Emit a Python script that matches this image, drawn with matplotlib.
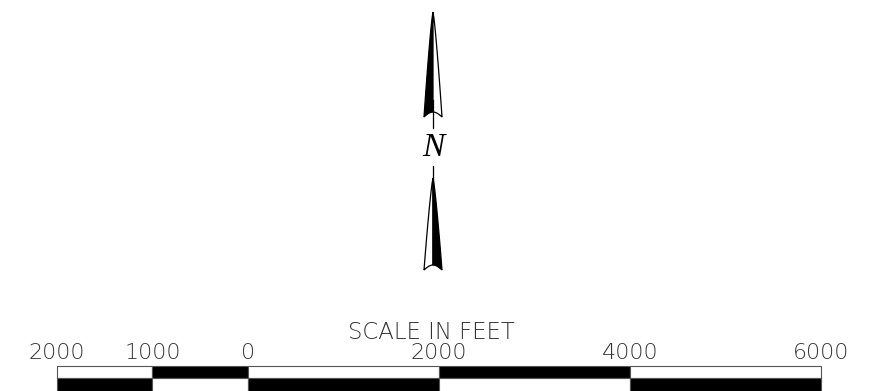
import matplotlib.pyplot as plt
from matplotlib.patches import Polygon, Rectangle
import numpy as np

# scale bar data (feet)
tick_ft = [-2000, -1000, 0, 2000, 4000, 6000]
tick_labels = ["2000", "1000", "0", "2000", "4000", "6000"]
top_row_black = [False, True, False, True, False]
scale_title = "SCALE IN FEET"
north_label = "N"

fig = plt.figure(figsize=(8.83, 3.91), dpi=100)

# --- north arrow, drawn in pixel space ---
ax = fig.add_axes([0, 0, 1, 1])
ax.set_xlim(0, 883)
ax.set_ylim(391, 0)
ax.axis("off")


def arrow(ax, cx, tip, base, half, black_left):
    t = np.linspace(0, 1, 12)
    notch = 5
    # sides bulge a little, base curves up to the centre
    s = np.linspace(0, 1, 20)
    side_y = tip + (base - tip) * s
    side_w = half * (s ** 0.8)
    lx = cx - half + half * t
    ly = base - notch * np.sin(t * np.pi / 2)
    left = list(zip(cx - side_w, side_y)) + list(zip(lx, ly))
    right = list(zip(cx + side_w, side_y)) + list(zip(cx + half - half * t, ly))
    ax.add_patch(Polygon(left, closed=True, facecolor="black" if black_left else "white",
                         edgecolor="black", linewidth=0.9, joinstyle="miter"))
    ax.add_patch(Polygon(right, closed=True, facecolor="white" if black_left else "black",
                         edgecolor="black", linewidth=0.9, joinstyle="miter"))


cx = 433
arrow(ax, cx, 12, 117, 9, True)
ax.plot([cx, cx], [100, 128], color="black", linewidth=0.9)
ax.text(cx, 148, north_label, ha="center", va="center", fontsize=24,
        family="Liberation Serif", style="italic")
ax.plot([cx, cx], [166, 200], color="black", linewidth=0.9)
arrow(ax, cx, 178, 270, 9, False)

# --- scale bar, x in feet ---
px_per_ft = (821 - 57) / 8000
x_lo = -2000 - 57 / px_per_ft
x_hi = x_lo + 883 / px_per_ft
sx = fig.add_axes([0, 0, 1, 1])
sx.set_xlim(x_lo, x_hi)
sx.set_ylim(391, 0)
sx.axis("off")

for i in range(len(tick_ft) - 1):
    x0, x1 = tick_ft[i], tick_ft[i + 1]
    top_black = top_row_black[i]
    sx.add_patch(Rectangle((x0, 366), x1 - x0, 12, facecolor="black" if top_black else "white",
                           edgecolor="#555555", linewidth=0.8))
    sx.add_patch(Rectangle((x0, 378), x1 - x0, 15, facecolor="white" if top_black else "black",
                           edgecolor="#555555", linewidth=0.8))

for ft, lab in zip(tick_ft, tick_labels):
    sx.text(ft, 359, lab, ha="center", va="baseline", fontsize=16,
            color="#333333", family="DejaVu Sans", fontweight="light")

sx.text(1920, 339, scale_title, ha="center", va="baseline", fontsize=16.5,
        color="#333333", family="DejaVu Sans", fontweight="light")

fig.savefig("out.png", dpi=100, facecolor="white")
